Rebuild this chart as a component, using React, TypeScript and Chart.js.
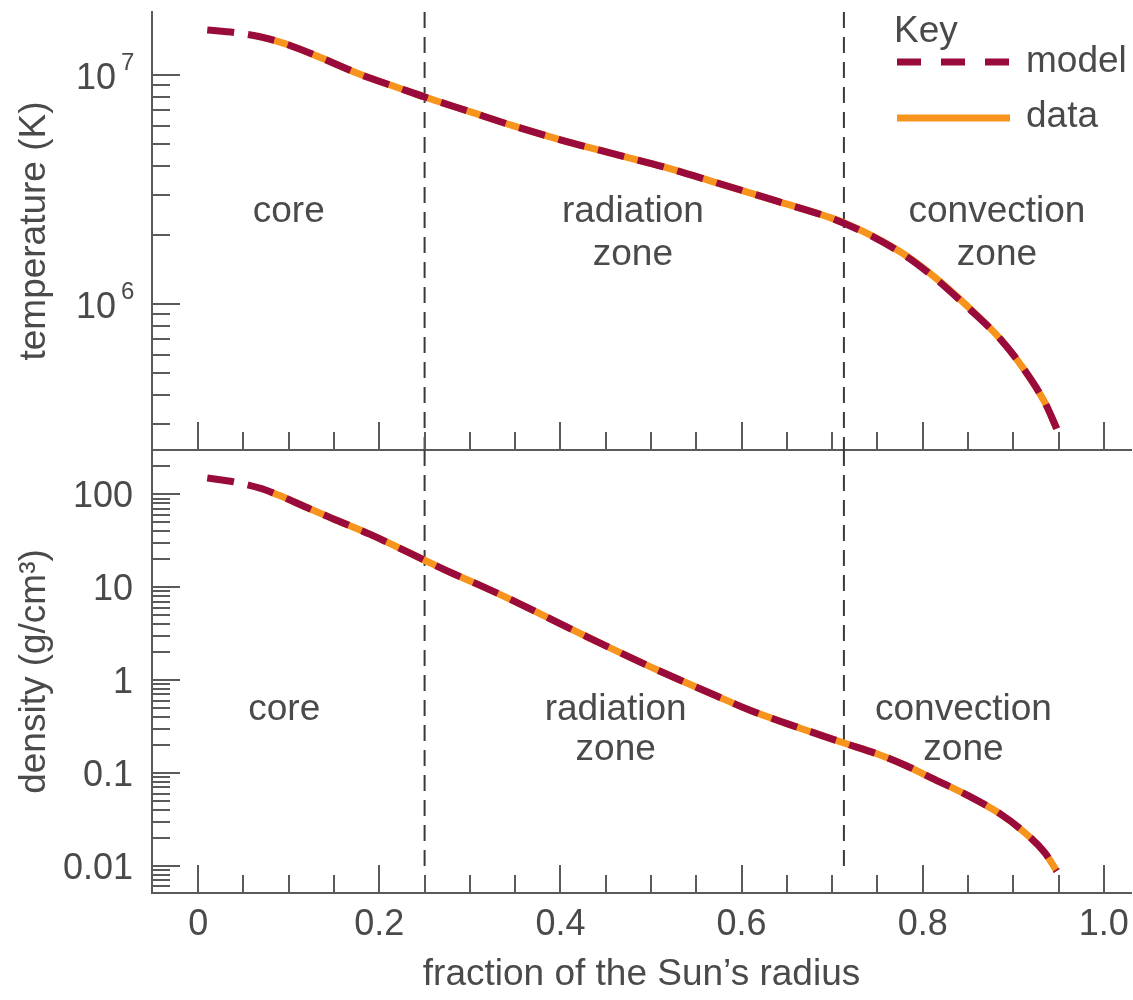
import React, { useEffect, useRef } from "react";
import { Chart, registerables } from "chart.js";
import type { ChartConfiguration, Plugin } from "chart.js";

Chart.register(...registerables);

const FONT = '"Liberation Sans", Arial, Helvetica, sans-serif';
const INK = "#4a4a4a";
const AXIS_GRAY = "#5a5a5a";
const MODEL_COLOR = "#990b3d";
const DATA_COLOR = "#f7941e";
const DIVIDER_COLOR = "#3a3a3a";

// shared x axis: fraction of the Sun's radius
const X_MIN = -0.051;
const X_MAX = 1.03;
const X_TICKS = [0, 0.2, 0.4, 0.6, 0.8, 1.0];
const X_TICK_LABELS = ["0", "0.2", "0.4", "0.6", "0.8", "1.0"];
const X_MINOR_TICKS = [0.05, 0.1, 0.15, 0.25, 0.3, 0.35, 0.45, 0.5, 0.55, 0.65, 0.7, 0.75, 0.85, 0.9, 0.95];
const ZONE_BOUNDS = [0.25, 0.713];
const ZONE_NAMES = [["core"], ["radiation", "zone"], ["convection", "zone"]];

// temperature panel (K)
const T_MIN = 2.3e5;
const T_MAX = 1.88e7;
const T_DECADES = [1e6, 1e7];
const T_EXPONENTS = ["6", "7"];
const T_MODEL_R = [0.01, 0.04, 0.07, 0.1, 0.135, 0.18, 0.22, 0.25, 0.3, 0.35, 0.4, 0.46, 0.52, 0.57, 0.64, 0.713, 0.776, 0.812, 0.849, 0.886, 0.91, 0.935, 0.948];
const T_MODEL = [1.57e7, 1.53e7, 1.46e7, 1.35e7, 1.19e7, 1.0e7, 8.8e6, 8.0e6, 6.9e6, 5.95e6, 5.2e6, 4.5e6, 3.9e6, 3.4e6, 2.8e6, 2.25e6, 1.67e6, 1.31e6, 9.7e5, 7.0e5, 5.3e5, 3.7e5, 2.85e5];
const T_DATA_R = [0.065, 0.1, 0.135, 0.18, 0.22, 0.25, 0.3, 0.35, 0.4, 0.46, 0.52, 0.57, 0.64, 0.713, 0.776, 0.812, 0.849, 0.886, 0.91, 0.935, 0.948];
const T_DATA = [1.48e7, 1.35e7, 1.19e7, 1.0e7, 8.8e6, 8.0e6, 6.9e6, 5.95e6, 5.2e6, 4.5e6, 3.9e6, 3.4e6, 2.8e6, 2.26e6, 1.68e6, 1.32e6, 9.8e5, 7.0e5, 5.3e5, 3.7e5, 2.85e5];
const T_ZONE_X = [0.1, 0.48, 0.882];
const T_ZONE_Y = [2.28e6, 1.48e6];

// density panel (g/cm3)
const D_MIN = 0.0051;
const D_MAX = 300;
const D_DECADES = [0.01, 0.1, 1, 10, 100];
const D_DECADE_LABELS = ["0.01", "0.1", "1", "10", "100"];
const D_MODEL_R = [0.01, 0.04, 0.07, 0.09, 0.12, 0.15, 0.19, 0.22, 0.25, 0.28, 0.31, 0.35, 0.39, 0.43, 0.46, 0.5, 0.53, 0.57, 0.61, 0.65, 0.68, 0.713, 0.75, 0.78, 0.81, 0.85, 0.886, 0.91, 0.935, 0.948];
const D_MODEL = [150, 136, 115, 97, 72, 54, 37, 27, 19.5, 14.2, 10.6, 7.0, 4.5, 2.9, 2.1, 1.38, 1.02, 0.69, 0.47, 0.34, 0.27, 0.21, 0.16, 0.122, 0.088, 0.057, 0.036, 0.024, 0.0138, 0.0088];
const D_DATA_R = [0.08, 0.09, 0.12, 0.15, 0.19, 0.22, 0.25, 0.28, 0.31, 0.35, 0.39, 0.43, 0.46, 0.5, 0.53, 0.57, 0.61, 0.65, 0.68, 0.713, 0.75, 0.78, 0.81, 0.85, 0.886, 0.91, 0.935, 0.948];
const D_DATA = [106, 97, 72, 54, 37, 27, 19.5, 14.2, 10.6, 7.0, 4.5, 2.9, 2.1, 1.38, 1.02, 0.69, 0.47, 0.34, 0.27, 0.21, 0.16, 0.122, 0.088, 0.057, 0.036, 0.024, 0.0138, 0.0088];
const D_ZONE_X = [0.095, 0.461, 0.845];
const D_ZONE_Y = [0.372, 0.138];
const D_DIVIDER_END = 0.0097;

const font = (size: number) => `${size}px ${FONT}`;
const pts = (xs: number[], ys: number[]) => xs.map((x, i) => ({ x, y: ys[i] }));

const logMinorTicks = (min: number, max: number) => {
  const out: number[] = [];
  for (let e = Math.floor(Math.log10(min)); e <= Math.ceil(Math.log10(max)); e++) {
    for (let m = 2; m <= 9; m++) {
      const v = m * Math.pow(10, e);
      if (v >= min && v <= max) out.push(v);
    }
  }
  return out;
};

type PanelKind = "temperature" | "density";

// tick marks point inward, labels and zone names drawn through the scales
const decorPlugin = (kind: PanelKind): Plugin<"line"> => ({
  id: "decor",
  afterDraw(chart) {
    const { ctx, chartArea } = chart;
    const xs = chart.scales.x;
    const ys = chart.scales.y;
    const { left, right, top, bottom } = chartArea;
    const decades = kind === "temperature" ? T_DECADES : D_DECADES;
    const minors = kind === "temperature" ? logMinorTicks(T_MIN, T_MAX) : logMinorTicks(D_MIN, D_MAX);

    ctx.save();
    ctx.strokeStyle = AXIS_GRAY;
    ctx.lineWidth = 2;
    ctx.beginPath();
    decades.forEach((v) => {
      const y = Math.round(ys.getPixelForValue(v));
      ctx.moveTo(left, y);
      ctx.lineTo(left + 28, y);
    });
    minors.forEach((v) => {
      if (decades.includes(v)) return;
      const y = Math.round(ys.getPixelForValue(v));
      ctx.moveTo(left, y);
      ctx.lineTo(left + 18, y);
    });
    X_TICKS.forEach((v) => {
      const x = Math.round(xs.getPixelForValue(v));
      ctx.moveTo(x, bottom);
      ctx.lineTo(x, bottom - 28);
    });
    X_MINOR_TICKS.forEach((v) => {
      const x = Math.round(xs.getPixelForValue(v));
      ctx.moveTo(x, bottom);
      ctx.lineTo(x, bottom - 18);
    });
    ctx.stroke();

    ctx.fillStyle = INK;
    ctx.textBaseline = "alphabetic";
    if (kind === "temperature") {
      T_DECADES.forEach((v, i) => {
        const y = ys.getPixelForValue(v);
        ctx.font = font(36);
        ctx.textAlign = "right";
        ctx.fillText("10", left - 36, y + 14);
        ctx.font = font(24);
        ctx.textAlign = "left";
        ctx.fillText(T_EXPONENTS[i], left - 31, y - 5);
      });
    } else {
      ctx.font = font(36);
      ctx.textAlign = "right";
      D_DECADES.forEach((v, i) => {
        ctx.fillText(D_DECADE_LABELS[i], left - 19, ys.getPixelForValue(v) + 13);
      });
    }

    const zoneX = kind === "temperature" ? T_ZONE_X : D_ZONE_X;
    const zoneY = kind === "temperature" ? T_ZONE_Y : D_ZONE_Y;
    ctx.font = font(37);
    ctx.textAlign = "center";
    ZONE_NAMES.forEach((lines, i) => {
      lines.forEach((line, j) => {
        ctx.fillText(line, xs.getPixelForValue(zoneX[i]), ys.getPixelForValue(zoneY[j]));
      });
    });

    if (kind === "temperature") {
      const lx0 = right - 234;
      const lx1 = right - 121;
      ctx.textAlign = "left";
      ctx.fillText("Key", lx0 - 3, top + 30);
      ctx.lineWidth = 7;
      ctx.strokeStyle = MODEL_COLOR;
      ctx.setLineDash([24, 20]);
      ctx.beginPath();
      ctx.moveTo(lx0, top + 50);
      ctx.lineTo(lx1, top + 50);
      ctx.stroke();
      ctx.setLineDash([]);
      ctx.strokeStyle = DATA_COLOR;
      ctx.beginPath();
      ctx.moveTo(lx0, top + 106);
      ctx.lineTo(lx1, top + 106);
      ctx.stroke();
      ctx.fillText("model", right - 105, top + 60);
      ctx.fillText("data", right - 105, top + 115);
    }
    ctx.restore();
  },
});

const panelConfig = (kind: PanelKind): ChartConfiguration<"line"> => {
  const isTemp = kind === "temperature";
  const yMin = isTemp ? T_MIN : D_MIN;
  const yMax = isTemp ? T_MAX : D_MAX;
  const dividerEnd = isTemp ? T_MIN : D_DIVIDER_END;
  return {
    type: "line",
    data: {
      datasets: [
        {
          label: "model",
          data: isTemp ? pts(T_MODEL_R, T_MODEL) : pts(D_MODEL_R, D_MODEL),
          borderColor: MODEL_COLOR,
          borderWidth: 7,
          borderDash: [27, 14],
          pointRadius: 0,
          cubicInterpolationMode: "monotone",
          order: 0,
        },
        {
          label: "data",
          data: isTemp ? pts(T_DATA_R, T_DATA) : pts(D_DATA_R, D_DATA),
          borderColor: DATA_COLOR,
          borderWidth: 7,
          pointRadius: 0,
          cubicInterpolationMode: "monotone",
          order: 1,
        },
        ...ZONE_BOUNDS.map((b) => ({
          label: "boundary",
          data: [
            { x: b, y: yMax },
            { x: b, y: dividerEnd },
          ],
          borderColor: DIVIDER_COLOR,
          borderWidth: 2,
          borderDash: [16, 9],
          pointRadius: 0,
          order: 2,
        })),
      ],
    },
    options: {
      animation: false,
      responsive: false,
      events: [],
      layout: { padding: { top: isTemp ? 12 : 0, right: 2, left: 0, bottom: 0 } },
      plugins: { legend: { display: false }, tooltip: { enabled: false } },
      scales: {
        x: {
          type: "linear",
          min: X_MIN,
          max: X_MAX,
          grid: { display: false, drawTicks: false },
          border: { display: true, color: AXIS_GRAY, width: 2 },
          ticks: {
            display: !isTemp,
            padding: 10,
            color: INK,
            autoSkip: false,
            maxRotation: 0,
            font: { family: FONT, size: 36 },
            callback: (_v, i) => X_TICK_LABELS[i],
          },
          afterBuildTicks: (s) => {
            s.ticks = X_TICKS.map((value) => ({ value }));
          },
          title: {
            display: !isTemp,
            text: "fraction of the Sun’s radius",
            color: INK,
            font: { family: FONT, size: 37 },
            padding: { top: 0, bottom: 3 },
          },
          afterFit: (s) => {
            s.height = isTemp ? 10 : 107;
            s.paddingLeft = 0;
            s.paddingRight = 0;
          },
        },
        y: {
          type: "logarithmic",
          position: "left",
          min: yMin,
          max: yMax,
          grid: { display: false, drawTicks: false },
          border: { display: true, color: AXIS_GRAY, width: 2 },
          ticks: { display: false },
          title: {
            display: true,
            text: isTemp ? "temperature (K)" : "density (g/cm³)",
            color: INK,
            font: { family: FONT, size: 37 },
            padding: { top: 13, bottom: 0 },
          },
          afterFit: (s) => {
            s.width = 152;
            s.paddingTop = 0;
            s.paddingBottom = 0;
          },
        },
      },
    },
    plugins: [decorPlugin(kind)],
  };
};

export default function App() {
  const topRef = useRef<HTMLCanvasElement | null>(null);
  const bottomRef = useRef<HTMLCanvasElement | null>(null);

  useEffect(() => {
    if (!topRef.current || !bottomRef.current) return;
    const tempChart = new Chart(topRef.current, panelConfig("temperature"));
    const densChart = new Chart(bottomRef.current, panelConfig("density"));
    return () => {
      tempChart.destroy();
      densChart.destroy();
    };
  }, []);

  return (
    <div style={{ position: "absolute", left: 0, top: 0, width: 1133, height: 1000, background: "#fff" }}>
      <canvas ref={topRef} width={1133} height={460} style={{ position: "absolute", left: 0, top: 0 }} />
      <canvas ref={bottomRef} width={1133} height={550} style={{ position: "absolute", left: 0, top: 450 }} />
    </div>
  );
}
